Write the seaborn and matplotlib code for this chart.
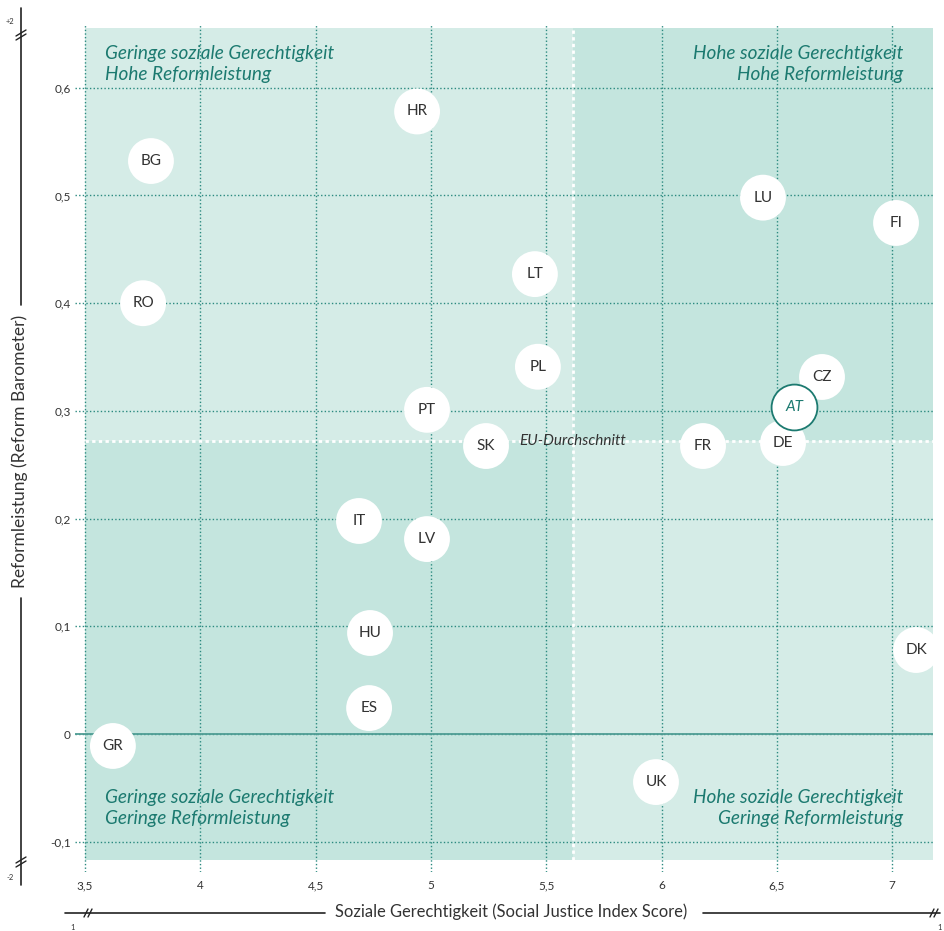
import matplotlib
matplotlib.use("Agg")
import matplotlib.pyplot as plt
from matplotlib.patches import Rectangle
from matplotlib.lines import Line2D
import seaborn as sns
import pandas as pd

# Country scores: social justice index (x) and reform barometer (y)
countries = ["HR", "BG", "LU", "FI", "LT", "RO", "PL", "CZ", "PT", "AT",
             "SK", "FR", "DE", "IT", "LV", "HU", "DK", "ES", "GR", "UK"]
social_justice = [4.94, 3.786, 6.44, 7.017, 5.451, 3.752, 5.464, 6.696, 4.983, 6.575,
                  5.239, 6.18, 6.527, 4.688, 4.983, 4.736, 7.104, 4.732, 3.621, 5.976]
reform = [0.578, 0.532, 0.498, 0.4745, 0.427, 0.400, 0.341, 0.3315, 0.301, 0.3036,
          0.2674, 0.2674, 0.2702, 0.1978, 0.181, 0.0938, 0.078, 0.0241, -0.0111, -0.0446]

# EU averages
eu_x = 5.616
eu_y = 0.272

x_ticks = [3.5, 4, 4.5, 5, 5.5, 6, 6.5, 7]
x_tick_labels = ["3,5", "4", "4,5", "5", "5,5", "6", "6,5", "7"]
y_ticks = [-0.1, 0, 0.1, 0.2, 0.3, 0.4, 0.5, 0.6]
y_tick_labels = ["-0,1", "0", "0,1", "0,2", "0,3", "0,4", "0,5", "0,6"]

quadrant_labels = {
    "tl": "Geringe soziale Gerechtigkeit\nHohe Reformleistung",
    "tr": "Hohe soziale Gerechtigkeit\nHohe Reformleistung",
    "bl": "Geringe soziale Gerechtigkeit\nGeringe Reformleistung",
    "br": "Hohe soziale Gerechtigkeit\nGeringe Reformleistung",
}

df = pd.DataFrame({"country": countries, "x": social_justice, "y": reform})

sns.set_style("white")
plt.rcParams["font.family"] = ["Lato", "DejaVu Sans"]

TEAL = "#1c7a70"
GRID = "#2b8a80"
LIGHT = "#d5ece7"
DARK = "#c4e5de"
INK = "#333333"

W, H = 944, 931
fig = plt.figure(figsize=(W / 100, H / 100), dpi=100)


def fx(px):
    return px / W


def fy(py):
    return 1 - py / H


# Plot area in pixels
left_px, right_px, top_px, bottom_px = 75, 933, 25, 872
ax = fig.add_axes([fx(left_px), fy(bottom_px), fx(right_px) - fx(left_px), fy(top_px) - fy(bottom_px)])
ax.set_xlim(3.4566, 7.1773)
ax.set_ylim(-0.1281, 0.6583)
for s in ax.spines.values():
    s.set_visible(False)

# Quadrant shading
xs0, xs1, ys0, ys1 = 3.5, 7.1773, -0.117, 0.6555
ax.add_patch(Rectangle((xs0, eu_y), eu_x - xs0, ys1 - eu_y, color=LIGHT, zorder=0.1, lw=0))
ax.add_patch(Rectangle((eu_x, eu_y), xs1 - eu_x, ys1 - eu_y, color=DARK, zorder=0.1, lw=0))
ax.add_patch(Rectangle((xs0, ys0), eu_x - xs0, eu_y - ys0, color=DARK, zorder=0.1, lw=0))
ax.add_patch(Rectangle((eu_x, ys0), xs1 - eu_x, eu_y - ys0, color=LIGHT, zorder=0.1, lw=0))

# Grid
ax.set_xticks(x_ticks)
ax.set_xticklabels(x_tick_labels)
ax.set_yticks(y_ticks)
ax.set_yticklabels(y_tick_labels)
ax.set_axisbelow(True)
ax.grid(True, color=GRID, linestyle=(0, (1, 1.6)), linewidth=1.0, zorder=0.5)
ax.tick_params(axis="both", length=0, labelsize=8.5, labelcolor=INK)
ax.tick_params(axis="y", pad=3)
ax.tick_params(axis="x", pad=6)

# EU average lines
ax.plot([eu_x, eu_x], [ys0, ys1], color="white", linestyle=(0, (1.2, 1.2)), linewidth=2, zorder=0.8)
ax.plot([xs0, xs1], [eu_y, eu_y], color="white", linestyle=(0, (1.2, 1.2)), linewidth=2, zorder=0.8)
ax.text(5.382, eu_y, "EU-Durchschnitt", style="italic", fontsize=11, color=INK,
        ha="left", va="center", zorder=3)

# Zero line
ax.axhline(0, color="#4f9d94", linewidth=1.3, zorder=1)

# Country markers
others = df[df["country"] != "AT"]
at = df[df["country"] == "AT"]
sns.scatterplot(data=others, x="x", y="y", ax=ax, s=1090, color="white",
                edgecolor="none", zorder=4, legend=False)
sns.scatterplot(data=at, x="x", y="y", ax=ax, s=1090, color="white",
                edgecolor=TEAL, linewidth=1.3, zorder=4, legend=False)
for _, r in df.iterrows():
    if r["country"] == "AT":
        ax.text(r["x"], r["y"], r["country"], ha="center", va="center", fontsize=11,
                color=TEAL, style="italic", zorder=5)
    else:
        ax.text(r["x"], r["y"], r["country"], ha="center", va="center", fontsize=11,
                color=INK, zorder=5)
ax.set_xlabel("")
ax.set_ylabel("")

# Quadrant captions
qkw = dict(fontsize=13.7, color=TEAL, style="italic", zorder=3, linespacing=1.32)
fig.text(fx(105), fy(64), quadrant_labels["tl"], ha="left", va="center", **qkw)
fig.text(fx(903), fy(64), quadrant_labels["tr"], ha="right", va="center", ma="right", **qkw)
fig.text(fx(105), fy(808), quadrant_labels["bl"], ha="left", va="center", **qkw)
fig.text(fx(903), fy(808), quadrant_labels["br"], ha="right", va="center", ma="right", **qkw)

# Outer axis lines with breaks
lk = dict(color="#222222", linewidth=1.2, transform=fig.transFigure)
fig.add_artist(Line2D([fx(21), fx(21)], [fy(8), fy(305)], **lk))
fig.add_artist(Line2D([fx(21), fx(21)], [fy(598), fy(885)], **lk))
fig.add_artist(Line2D([fx(65), fx(325)], [fy(913), fy(913)], **lk))
fig.add_artist(Line2D([fx(703), fx(940)], [fy(913), fy(913)], **lk))

bk = dict(color="#222222", linewidth=1.0, transform=fig.transFigure)
for yb in (35, 862):
    for off in (-2, 2):
        fig.add_artist(Line2D([fx(16), fx(26)], [fy(yb + off + 3), fy(yb + off - 3)], **bk))
for xb in (88, 934):
    for off in (-2, 2):
        fig.add_artist(Line2D([fx(xb + off - 2), fx(xb + off + 2)], [fy(917), fy(909)], **bk))

sk = dict(fontsize=5.5, color=INK, ha="center", va="center")
fig.text(fx(10), fy(21), "+2", **sk)
fig.text(fx(10), fy(878), "-2", **sk)
fig.text(fx(73), fy(928), "1", **sk)
fig.text(fx(940), fy(928), "1", **sk)

fig.text(fx(20), fy(451), "Reformleistung (Reform Barometer)", rotation=90,
         ha="center", va="center", fontsize=12.5, color=INK)
fig.text(fx(511), fy(912), "Soziale Gerechtigkeit (Social Justice Index Score)",
         ha="center", va="center", fontsize=11.9, color=INK)

fig.savefig("out.png", dpi=100)
